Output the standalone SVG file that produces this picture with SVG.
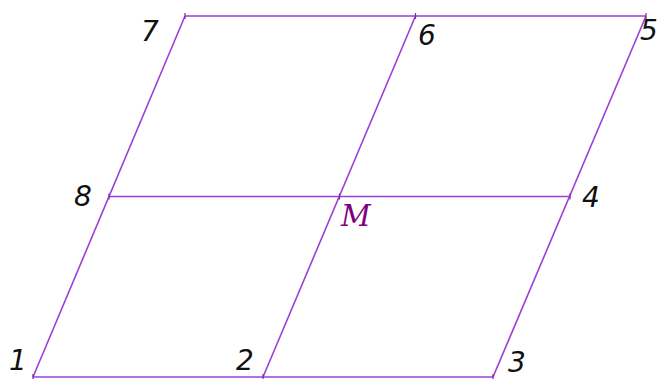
<svg xmlns="http://www.w3.org/2000/svg" width="660" height="379" viewBox="0 0 660 379">
<style>
.e{stroke:#9b3fd6;stroke-width:1.6;fill:none}
.t{stroke:#7a2a9a;stroke-width:1.2}
.l{font-family:"DejaVu Sans",sans-serif;font-style:italic;font-size:28px;fill:#111}
.m{font-family:"DejaVu Serif",serif;font-style:italic;font-size:29px;fill:#800080}
</style>
<rect width="660" height="379" fill="#fff"/>
<g id="connectors">
<line class="e" x1="33" y1="377" x2="493" y2="377"/>
<line class="e" x1="109" y1="196.5" x2="570" y2="196.5"/>
<line class="e" x1="185" y1="16" x2="646" y2="16"/>
<line class="e" x1="33" y1="377" x2="185" y2="16"/>
<line class="e" x1="263" y1="377" x2="415.5" y2="16"/>
<line class="e" x1="493" y1="377" x2="646" y2="16"/>
</g>
<g id="n1"><line class="t" x1="33" y1="374" x2="33" y2="380"/><text class="l" x="9" y="370">1</text></g>
<g id="n2"><line class="t" x1="263" y1="374" x2="263" y2="380"/><text class="l" x="236" y="370">2</text></g>
<g id="n3"><line class="t" x1="493" y1="374" x2="493" y2="380"/><text class="l" x="508" y="372">3</text></g>
<g id="n8"><line class="t" x1="109" y1="193.5" x2="109" y2="199.5"/><text class="l" x="74" y="206">8</text></g>
<g id="nM"><line class="t" x1="339.5" y1="193.5" x2="339.5" y2="199.5"/><text class="m" x="341" y="226">M</text></g>
<g id="n4"><line class="t" x1="570" y1="193.5" x2="570" y2="199.5"/><text class="l" x="582" y="207">4</text></g>
<g id="n7"><line class="t" x1="185" y1="13" x2="185" y2="19"/><text class="l" x="141" y="41">7</text></g>
<g id="n6"><line class="t" x1="415.5" y1="13" x2="415.5" y2="19"/><text class="l" x="418" y="45">6</text></g>
<g id="n5"><line class="t" x1="646" y1="13" x2="646" y2="19"/><text class="l" x="640" y="40">5</text></g>
</svg>
